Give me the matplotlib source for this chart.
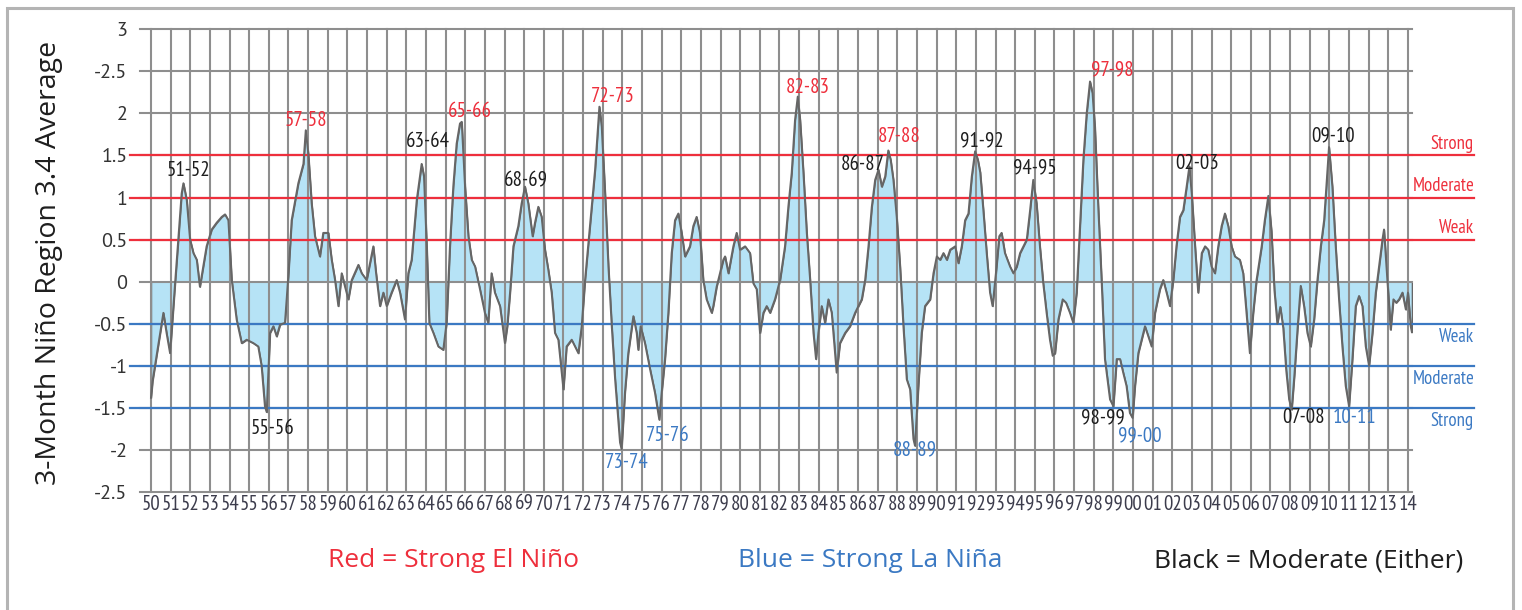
import matplotlib
matplotlib.use("Agg")
import matplotlib.pyplot as plt
from matplotlib.patches import Rectangle

# ---------------- data ----------------
season_time = [
    1950.00, 1950.08, 1950.63, 1950.80, 1950.97, 1951.20, 1951.39, 1951.56, 1951.65, 1951.82,
    1951.99, 1952.16, 1952.33, 1952.49, 1952.66, 1952.83, 1953.09, 1953.34, 1953.60, 1953.77,
    1953.94, 1954.11, 1954.36, 1954.62, 1954.87, 1955.21, 1955.46, 1955.63, 1955.80, 1955.89,
    1956.06, 1956.23, 1956.40, 1956.57, 1956.82, 1956.99, 1957.16, 1957.50, 1957.76, 1957.88,
    1958.01, 1958.18, 1958.35, 1958.60, 1958.77, 1959.03, 1959.20, 1959.37, 1959.54, 1959.71,
    1959.88, 1960.05, 1960.22, 1960.56, 1960.73, 1960.98, 1961.15, 1961.32, 1961.46, 1961.66,
    1961.83, 1962.00, 1962.25, 1962.51, 1962.68, 1962.93, 1963.10, 1963.27, 1963.53, 1963.78,
    1963.90, 1964.04, 1964.17, 1964.38, 1964.63, 1964.88, 1965.05, 1965.22, 1965.39, 1965.56,
    1965.73, 1965.82, 1965.99, 1966.16, 1966.33, 1966.50, 1966.75, 1967.00, 1967.17, 1967.34,
    1967.51, 1967.77, 1968.02, 1968.14, 1968.28, 1968.45, 1968.70, 1968.87, 1969.04, 1969.21,
    1969.43, 1969.55, 1969.72, 1969.89, 1970.06, 1970.23, 1970.40, 1970.57, 1970.74, 1971.00,
    1971.16, 1971.42, 1971.59, 1971.76, 1971.93, 1972.10, 1972.35, 1972.61, 1972.83, 1972.95,
    1973.12, 1973.29, 1973.46, 1973.63, 1973.88, 1973.96, 1974.13, 1974.30, 1974.56, 1974.73,
    1974.81, 1974.93, 1975.15, 1975.41, 1975.66, 1975.88, 1976.00, 1976.17, 1976.34, 1976.51,
    1976.68, 1976.85, 1977.02, 1977.19, 1977.44, 1977.61, 1977.78, 1977.95, 1978.12, 1978.29,
    1978.55, 1978.63, 1978.80, 1978.97, 1979.14, 1979.23, 1979.40, 1979.65, 1979.82, 1979.99,
    1980.25, 1980.50, 1980.67, 1980.84, 1981.01, 1981.18, 1981.35, 1981.52, 1981.77, 1982.03,
    1982.28, 1982.45, 1982.62, 1982.79, 1982.93, 1983.05, 1983.22, 1983.39, 1983.56, 1983.73,
    1983.86, 1983.98, 1984.15, 1984.32, 1984.49, 1984.66, 1984.83, 1984.91, 1985.08, 1985.34,
    1985.59, 1985.85, 1986.02, 1986.19, 1986.36, 1986.53, 1986.70, 1986.87, 1987.04, 1987.21,
    1987.38, 1987.54, 1987.66, 1987.80, 1987.97, 1988.14, 1988.31, 1988.48, 1988.65, 1988.82,
    1988.90, 1989.07, 1989.24, 1989.41, 1989.67, 1989.84, 1990.01, 1990.18, 1990.35, 1990.52,
    1990.69, 1990.95, 1991.11, 1991.28, 1991.45, 1991.62, 1991.79, 1991.96, 1992.10, 1992.22,
    1992.38, 1992.55, 1992.72, 1992.85, 1993.02, 1993.19, 1993.31, 1993.48, 1993.74, 1993.91,
    1994.08, 1994.25, 1994.42, 1994.59, 1994.76, 1994.92, 1995.09, 1995.26, 1995.43, 1995.60,
    1995.77, 1995.91, 1996.03, 1996.20, 1996.42, 1996.59, 1996.79, 1996.96, 1997.13, 1997.30,
    1997.47, 1997.64, 1997.81, 1997.94, 1998.06, 1998.23, 1998.40, 1998.57, 1998.83, 1999.00,
    1999.17, 1999.34, 1999.50, 1999.67, 1999.84, 1999.98, 2000.10, 2000.27, 2000.44, 2000.61,
    2000.78, 2000.95, 2001.12, 2001.37, 2001.54, 2001.71, 2001.88, 2002.05, 2002.21, 2002.39,
    2002.56, 2002.73, 2002.87, 2002.99, 2003.16, 2003.32, 2003.50, 2003.67, 2003.83, 2004.00,
    2004.17, 2004.34, 2004.51, 2004.68, 2004.85, 2005.02, 2005.19, 2005.44, 2005.61, 2005.78,
    2005.95, 2006.12, 2006.29, 2006.55, 2006.71, 2006.89, 2007.05, 2007.20, 2007.35, 2007.50,
    2007.65, 2007.80, 2007.95, 2008.08, 2008.22, 2008.38, 2008.54, 2008.71, 2008.88, 2009.05,
    2009.22, 2009.39, 2009.56, 2009.73, 2009.90, 2009.98, 2010.15, 2010.32, 2010.49, 2010.66,
    2010.83, 2011.00, 2011.17, 2011.34, 2011.51, 2011.68, 2011.85, 2012.02, 2012.19, 2012.36,
    2012.53, 2012.70, 2012.78, 2012.92, 2013.04, 2013.12, 2013.26, 2013.40, 2013.55, 2013.72,
    2013.89, 2014.00, 2014.14, 2014.20,
]
nino34_anomaly = [
    -1.38, -1.18, -0.37, -0.62, -0.85, -0.10, 0.50, 1.05, 1.17, 0.97,
    0.50, 0.34, 0.26, -0.06, 0.18, 0.42, 0.62, 0.70, 0.77, 0.80,
    0.73, 0.02, -0.45, -0.73, -0.69, -0.73, -0.77, -1.00, -1.48, -1.55,
    -0.61, -0.53, -0.65, -0.51, -0.49, 0.06, 0.73, 1.17, 1.40, 1.80,
    1.52, 0.93, 0.54, 0.30, 0.58, 0.58, 0.26, 0.02, -0.29, 0.10,
    -0.06, -0.21, 0.02, 0.20, 0.10, 0.02, 0.22, 0.42, 0.10, -0.29,
    -0.13, -0.29, -0.13, 0.02, -0.13, -0.45, 0.10, 0.26, 0.97, 1.40,
    1.25, 0.42, -0.49, -0.61, -0.77, -0.81, -0.49, 0.42, 1.13, 1.64,
    1.88, 1.90, 1.13, 0.54, 0.26, 0.18, -0.09, -0.37, -0.49, 0.10,
    -0.13, -0.29, -0.73, -0.53, -0.13, 0.42, 0.66, 0.93, 1.13, 0.93,
    0.54, 0.70, 0.89, 0.77, 0.38, 0.14, -0.13, -0.61, -0.69, -1.28,
    -0.77, -0.69, -0.77, -0.85, -0.53, 0.02, 0.66, 1.33, 2.08, 1.84,
    1.05, 0.18, -0.53, -1.16, -1.91, -1.99, -1.32, -0.85, -0.41, -0.61,
    -0.81, -0.53, -0.73, -1.04, -1.32, -1.64, -1.32, -0.92, -0.37, 0.34,
    0.73, 0.81, 0.58, 0.30, 0.42, 0.66, 0.77, 0.58, 0.02, -0.21,
    -0.37, -0.29, -0.06, 0.10, 0.26, 0.30, 0.10, 0.42, 0.58, 0.38,
    0.42, 0.34, -0.02, -0.09, -0.61, -0.37, -0.29, -0.37, -0.21, 0.02,
    0.42, 0.89, 1.29, 1.92, 2.20, 1.92, 1.29, 0.58, 0.02, -0.61,
    -0.92, -0.61, -0.29, -0.49, -0.21, -0.37, -0.85, -1.08, -0.73, -0.61,
    -0.53, -0.37, -0.29, -0.21, 0.02, 0.42, 0.89, 1.21, 1.33, 1.13,
    1.25, 1.56, 1.45, 1.21, 0.77, 0.18, -0.53, -1.16, -1.28, -1.87,
    -1.95, -1.24, -0.61, -0.29, -0.21, 0.10, 0.30, 0.26, 0.34, 0.26,
    0.38, 0.42, 0.22, 0.42, 0.73, 0.81, 1.25, 1.55, 1.45, 1.30,
    0.85, 0.34, -0.13, -0.29, 0.10, 0.54, 0.58, 0.34, 0.18, 0.10,
    0.18, 0.34, 0.42, 0.50, 0.85, 1.21, 0.93, 0.42, -0.02, -0.37,
    -0.69, -0.88, -0.85, -0.45, -0.21, -0.25, -0.37, -0.49, -0.13, 0.66,
    1.45, 2.00, 2.38, 2.24, 1.84, 0.89, 0.02, -0.92, -1.40, -1.48,
    -0.92, -0.92, -1.08, -1.24, -1.56, -1.62, -1.24, -0.85, -0.69, -0.53,
    -0.65, -0.77, -0.37, -0.09, 0.02, -0.13, -0.29, 0.02, 0.42, 0.77,
    0.85, 1.13, 1.37, 1.05, 0.42, -0.13, 0.34, 0.42, 0.38, 0.18,
    0.10, 0.42, 0.66, 0.81, 0.66, 0.42, 0.30, 0.26, 0.10, -0.37,
    -0.85, -0.37, 0.02, 0.42, 0.73, 1.02, 0.60, -0.10, -0.50, -0.30,
    -0.55, -1.05, -1.40, -1.52, -1.10, -0.55, -0.05, -0.29, -0.61, -0.77,
    -0.45, 0.02, 0.42, 0.73, 1.33, 1.60, 1.13, 0.42, -0.21, -0.77,
    -1.24, -1.48, -0.92, -0.29, -0.17, -0.29, -0.77, -1.00, -0.61, -0.13,
    0.18, 0.50, 0.62, 0.14, -0.29, -0.57, -0.21, -0.25, -0.21, -0.13,
    -0.33, -0.13, -0.53, -0.60,
]

year_ticks = list(range(1950, 2015))
year_labels = [f"{y % 100:02d}" for y in year_ticks]
y_ticks = [3, 2.5, 2, 1.5, 1, 0.5, 0, -0.5, -1, -1.5, -2, -2.5]
y_tick_labels = ["3", "-2.5", "2", "1.5", "1", "0.5", "0", "-0.5", "-1", "-1.5", "-2", "-2.5"]

el_nino_levels = [0.5, 1.0, 1.5]
la_nina_levels = [-0.5, -1.0, -1.5]
strength_names = ["Weak", "Moderate", "Strong"]

event_names = ["51-52", "57-58", "55-56", "63-64", "65-66", "68-69", "72-73", "73-74",
               "75-76", "82-83", "86-87", "87-88", "88-89", "91-92", "94-95", "97-98",
               "98-99", "99-00", "02-03", "07-08", "09-10", "10-11"]
event_year = [1951.93, 1957.88, 1956.21, 1964.10, 1966.24, 1969.09, 1973.52, 1974.20,
              1976.32, 1983.45, 1986.25, 1988.09, 1988.90, 1992.31, 1995.01, 1998.93,
              1998.47, 2000.36, 2003.26, 2008.66, 2010.18, 2011.30]
event_value = [1.32, 1.91, -1.74, 1.67, 2.02, 1.20, 2.20, -2.15,
               -1.83, 2.31, 1.39, 1.73, -2.00, 1.67, 1.35, 2.52,
               -1.62, -1.83, 1.41, -1.62, 1.73, -1.62]
event_class = ["mod", "nino", "mod", "mod", "nino", "mod", "nino", "nina",
               "nina", "nino", "mod", "nino", "nina", "mod", "mod", "nino",
               "mod", "nina", "mod", "mod", "mod", "nina"]

legend_texts = ["Red = Strong El Niño", "Blue = Strong La Niña", "Black = Moderate (Either)"]

# ---------------- style ----------------
RED = "#ee2f3c"
BLUE = "#3b79c3"
BLACK = "#1e1e1e"
GRID = "#8e8e8e"
FILL = "#b6e3f6"
LINE = "#666666"
class_colors = {"mod": BLACK, "nino": RED, "nina": BLUE}
NARROW = ["PT Sans Narrow", "DejaVu Sans"]
HUMAN = ["PT Sans", "DejaVu Sans"]
MAIN = ["Open Sans", "DejaVu Sans"]

W, H = 1522, 610
fig = plt.figure(figsize=(W / 100, H / 100), dpi=100)
fig.patch.set_facecolor("white")

left_px, right_px, top_px, bottom_px = 140, 1412, 29.3, 492
ax = fig.add_axes([left_px / W, (H - bottom_px) / H,
                   (right_px - left_px) / W, (bottom_px - top_px) / H])
ax.set_facecolor("white")

px_per_year = 19.64
ax.set_xlim(1950 - 11 / px_per_year, 1950 + (right_px - 151) / px_per_year)
ax.set_ylim(-2.5, 3)

ax.fill_between(season_time, nino34_anomaly, 0, facecolor=FILL,
                edgecolor=LINE, linewidth=1.0, zorder=1)
ax.plot(season_time, nino34_anomaly, color=LINE, linewidth=1.4, zorder=4)

ax.set_xticks(year_ticks)
ax.set_xticklabels(year_labels, fontfamily=NARROW, fontsize=15, color="#3c3c4c")
ax.set_yticks(y_ticks)
ax.set_yticklabels(y_tick_labels, fontfamily=HUMAN, fontsize=14.5, color="#333333")
ax.tick_params(axis="both", length=0)
ax.tick_params(axis="x", pad=2)
ax.tick_params(axis="y", pad=9)
ax.grid(True, color=GRID, linewidth=1.5)
ax.set_axisbelow(False)
for gl in ax.get_xgridlines() + ax.get_ygridlines():
    gl.set_clip_on(False)
    gl.set_zorder(2)
for s in ax.spines.values():
    s.set_visible(False)

x0 = (130 - left_px) / (right_px - left_px)
x1 = (1474 - left_px) / (right_px - left_px)
for lvl, name in zip(el_nino_levels, strength_names):
    ax.axhline(lvl, xmin=x0, xmax=x1, color=RED, linewidth=1.6, clip_on=False, zorder=3)
    ax.annotate(name, xy=(x1, lvl), xycoords=("axes fraction", "data"),
                xytext=(0, 4.8), textcoords="offset points", ha="right",
                va="baseline", color=RED, fontfamily=NARROW, fontsize=13.5)
for lvl, name in zip(la_nina_levels, strength_names):
    ax.annotate(name, xy=(x1, lvl), xycoords=("axes fraction", "data"),
                xytext=(0, -13), textcoords="offset points", ha="right",
                va="baseline", color=BLUE, fontfamily=NARROW, fontsize=13.5)
    ax.axhline(lvl, xmin=x0, xmax=x1, color=BLUE, linewidth=1.6, clip_on=False, zorder=3)

for name, xv, yv, cl in zip(event_names, event_year, event_value, event_class):
    ax.text(xv, yv, name, ha="center", va="center", color=class_colors[cl],
            fontfamily=NARROW, fontsize=15, zorder=5)

fig.text(49 / W, (H - 262.5) / H, "3-Month Niño Region 3.4 Average", rotation=90,
         ha="center", va="center", fontfamily=MAIN, fontsize=20.5, color=BLACK)

legend_centers = [453, 870, 1309]
legend_colors = [RED, BLUE, BLACK]
for txt, cx, col in zip(legend_texts, legend_centers, legend_colors):
    fig.text(cx / W, (H - 567.3) / H, txt, ha="center", va="baseline",
             fontfamily=MAIN, fontsize=19, color=col)

fig.add_artist(Rectangle((6.7 / W, -0.05), (1513 - 6.7) / W, (H - 8.3) / H + 0.05,
                         transform=fig.transFigure, fill=False,
                         edgecolor="#b4b4b4", linewidth=2.2))

fig.savefig("out.png", dpi=100, facecolor="white")
